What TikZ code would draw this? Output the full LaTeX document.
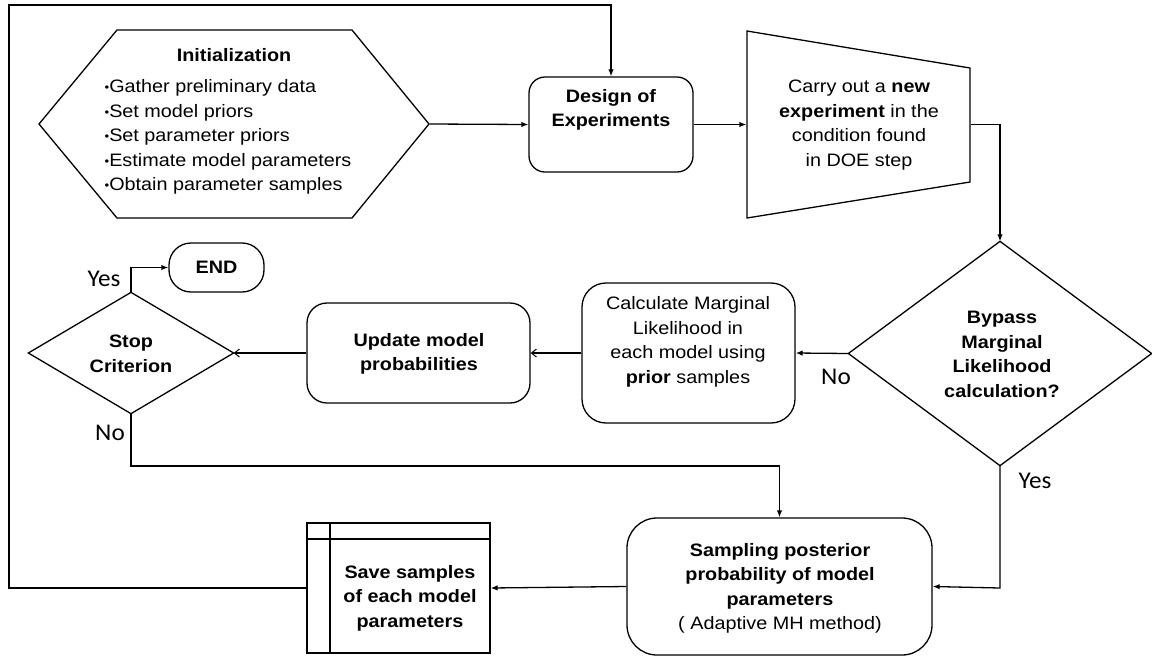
\documentclass[tikz,border=0pt]{standalone}
\usepackage{fontspec}
\setmainfont{Liberation Sans}[FakeStretch=1.1]
\newfontfamily\lblfont{Carlito}[FakeStretch=1.05]
\usetikzlibrary{arrows.meta}
\newcommand{\smallbul}{{\fontsize{12}{12}\selectfont\raisebox{0.8pt}{•}}}
\begin{document}
\begin{tikzpicture}[x=1pt,y=-1pt,
  line width=1.3pt,
  every node/.style={font=\fontsize{18}{24.5}\selectfont, align=center, inner sep=0pt},
  box/.style={draw, rounded corners=#1},
  blank/.style={draw=none},
  arr/.style={-{Latex[length=7pt,width=5.5pt]}},
  oarr/.style={-{Straight Barb[length=5pt,width=8pt,line width=1pt]}},
  lbl/.style={font=\lblfont\fontsize{24}{26}\selectfont}]
\useasboundingbox (0,0) rectangle (1152,657);
\fill[white] (0,0) rectangle (1152,657);

% Initialization hexagon
\node[blank, minimum width=390pt, minimum height=188pt] (init) at (234,124) {};
\draw (39,124) -- (117,30) -- (352,30) -- (429,124) -- (352,218) -- (117,218) -- cycle;
\node (inittitle) at (234,55) {\textbf{Initialization}};
\node[align=left, anchor=west] (initlist) at (104,137) {\smallbul Gather preliminary data\\\smallbul Set model priors\\\smallbul Set parameter priors\\\smallbul Estimate model parameters\\\smallbul Obtain parameter samples};

% Design of experiments
\node[box=16pt, minimum width=164pt, minimum height=95pt] (doe) at (611,124.5) {};
\node (doetext) at (611,110) {\textbf{Design of}\\\textbf{Experiments}};

% Trapezoid
\node[blank, minimum width=223pt, minimum height=187pt] (trap) at (858.5,124.5) {};
\draw (747,31) -- (970,68) -- (970,182) -- (747,218) -- cycle;
\node (traptext) at (859,125) {Carry out a \textbf{new}\\\textbf{experiment} in the\\condition found\\in DOE step};

% Bypass diamond
\node[blank, minimum width=302pt, minimum height=223pt] (byp) at (1000,353.5) {};
\draw (byp.north) -- (byp.east) -- (byp.south) -- (byp.west) -- cycle;
\node (byptext) at (1002,354.5) {\textbf{Bypass}\\\textbf{Marginal}\\\textbf{Likelihood}\\\textbf{calculation?}};

% Calculate marginal likelihood
\node[box=24pt, minimum width=213pt, minimum height=140pt] (calc) at (688.5,353) {};
\node (calctext) at (688,342) {Calculate Marginal\\Likelihood in\\each model using\\\textbf{prior} samples};

% Update model probabilities
\node[box=20pt, minimum width=223pt, minimum height=100pt] (upd) at (418.5,353) {};
\node (updtext) at (419,354) {\textbf{Update model}\\\textbf{probabilities}};

% Stop criterion diamond
\node[blank, minimum width=204pt, minimum height=120pt] (stop) at (131,353) {};
\draw (stop.north) -- (stop.east) -- (stop.south) -- (stop.west) -- cycle;
\node (stoptext) at (131,354) {\textbf{Stop}\\\textbf{Criterion}};

% END
\node[box=22pt, minimum width=95pt, minimum height=49pt] (endn) at (216.5,267.5) {\textbf{END}};

% Sampling posterior
\node[box=30pt, minimum width=305pt, minimum height=137pt] (samp) at (779.5,586.5) {};
\node (samptext) at (780,588.5) {\textbf{Sampling posterior}\\\textbf{probability of model}\\\textbf{parameters}\\( Adaptive MH method)};

% Save samples
\node[draw, minimum width=183pt, minimum height=130pt] (save) at (398.5,588) {};
\draw (330,523) -- (330,653);
\draw (307,539) -- (490,539);
\node (savetext) at (410,598) {\textbf{Save samples}\\\textbf{of each model}\\\textbf{parameters}};

% helper coordinates
\coordinate (loopL) at (9,5);
\coordinate (loopR) at (611,5);
\coordinate (trapR) at (1000,124.5);
\coordinate (stopYes) at (131,267.5);
\coordinate (stopNo) at (131,466);
\coordinate (sampTop) at (779.5,466);
\coordinate (bypYes) at (1000,588);

% connectors
\draw[arr] (init.east) -- (doe.west);
\draw[arr] (doe.east) -- (trap.west);
\draw[arr] (trap.east) -- (trapR) -- (byp.north);
\draw[arr] (byp.west) -- (calc.east);
\draw[oarr] (calc.west) -- (upd.east);
\draw[oarr] (upd.west) -- (stop.east);
\draw[arr] (stop.north) -- (stopYes) -- (endn.west);
\draw[arr] (stop.south) -- (stopNo) -- (sampTop) -- (samp.north);
\draw[arr] (byp.south) -- (bypYes) -- (samp.east);
\draw[arr] (samp.west) -- (save.east);
\draw[arr] (save.west) -- (save.west -| loopL) -- (loopL) -- (loopR) -- (doe.north -| loopR);

% labels
\node[lbl] (yes1) at (104,279) {Yes};
\node[lbl] (no1) at (110,433) {No};
\node[lbl] (no2) at (836,377) {No};
\node[lbl] (yes2) at (1035,481) {Yes};
\end{tikzpicture}
\end{document}
